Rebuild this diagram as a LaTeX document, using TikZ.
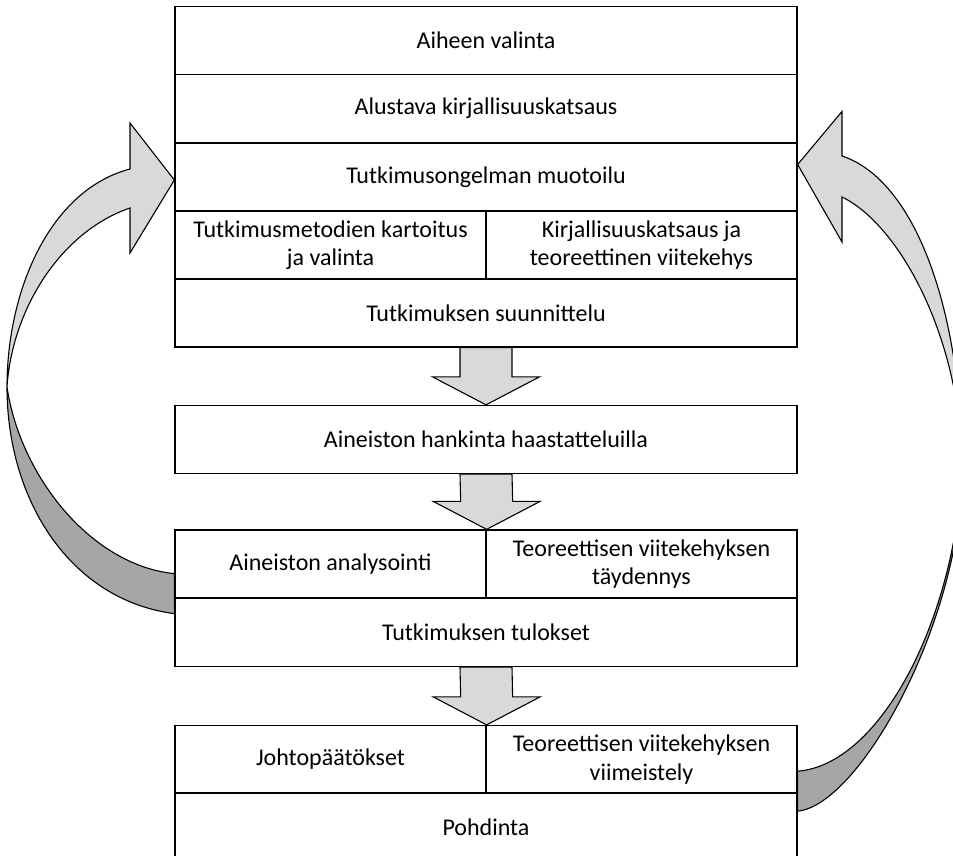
\documentclass[tikz,border=0pt]{standalone}
\usepackage{fontspec}
\setmainfont{Carlito}
\usepackage{xcolor}
\usepackage{tikz}
\usetikzlibrary{arrows.meta,positioning}

\definecolor{lightgr}{HTML}{D9D9D9}
\definecolor{darkgr}{HTML}{A6A6A6}

% block arrow between two anchor points (shaft from #1, tip at #2)
\newcommand\blockdown[2]{%
 \draw[barrow] ([xshift=-26pt]#1) -- ([xshift=26pt]#1) -- ([xshift=26pt,yshift=28pt]#2)
  -- ([xshift=53.5pt,yshift=28pt]#2) -- (#2) -- ([xshift=-53.5pt,yshift=28pt]#2)
  -- ([xshift=-26pt,yshift=28pt]#2) -- cycle;}

\begin{document}
\begin{tikzpicture}[x=1pt,y=-1pt,font=\fontsize{24}{28.5}\selectfont,
 wide/.style={draw,line width=1.3pt,minimum width=622pt,minimum height=68pt,inner sep=0pt},
 half/.style={draw,line width=1.3pt,minimum width=311pt,minimum height=68pt,inner sep=0pt,align=center},
 barrow/.style={draw,line width=1.1pt,fill=lightgr,line join=miter},
 loopl/.style={draw,line width=1.1pt,fill=lightgr},
 loopd/.style={draw,line width=1.1pt,fill=darkgr}]
\clip (0,0) rectangle (953,856);
% planning block
\node[wide] (r1) at (486,40.5) {Aiheen valinta};
\node[wide] (r2) at (486,108.5) {Alustava kirjallisuuskatsaus};
\node[wide] (r3) at (486,177) {Tutkimusongelman muotoilu};
\node[half] (r4l) at (330.5,245) {Tutkimusmetodien kartoitus\\ja valinta};
\node[half] (r4r) at (641.5,245) {Kirjallisuuskatsaus ja\\teoreettinen viitekehys};
\node[wide] (r5) at (486,313) {Tutkimuksen suunnittelu};
% data
\node[wide] (b2) at (486,439.5) {Aineiston hankinta haastatteluilla};
% analysis
\node[half] (b3l) at (330.5,564) {Aineiston analysointi};
\node[half] (b3r) at (641.5,564) {Teoreettisen viitekehyksen\\täydennys};
\node[wide] (b3t) at (486,632.5) {Tutkimuksen tulokset};
% conclusions
\node[half] (b4l) at (330.5,759.5) {Johtopäätökset};
\node[half] (b4r) at (641.5,759.5) {Teoreettisen viitekehyksen\\viimeistely};
\node[wide] (b4p) at (486,827) {Pohdinta};

\blockdown{r5.south}{b2.north}
\blockdown{b2.south}{b3l.north east}
\blockdown{b3t.south}{b4l.north east}

% left loop
\draw[loopd] (7,387) .. controls (7,500) and (70,600) .. ([yshift=-15pt]b3l.south west)
 -- ([yshift=25pt]b3l.south west) .. controls (90,565) and (20,475) .. (7,387) -- cycle;
\draw[loopl] (7,387) .. controls (7,290) and (50,190) .. (130,169) -- (130,123)
 -- ([yshift=-3pt]r3.west) -- (130,253) -- (130,208) .. controls (60,232) and (12,310) .. (7,387) -- cycle;
% right loop
\draw[loopd] (962,470) .. controls (962,620) and (860,805) .. ([yshift=-17pt]b4r.south east)
 -- ([yshift=23pt]b4r.south east) .. controls (880,765) and (955,620) .. (962,470) -- cycle;
\draw[loopl] (962,470) .. controls (962,310) and (915,180) .. (842,156) -- (842,111.5)
 -- ([yshift=12.5pt]r3.east) -- (842,242) -- (842,197) .. controls (900,225) and (962,340) .. (962,470) -- cycle;
\end{tikzpicture}
\end{document}
